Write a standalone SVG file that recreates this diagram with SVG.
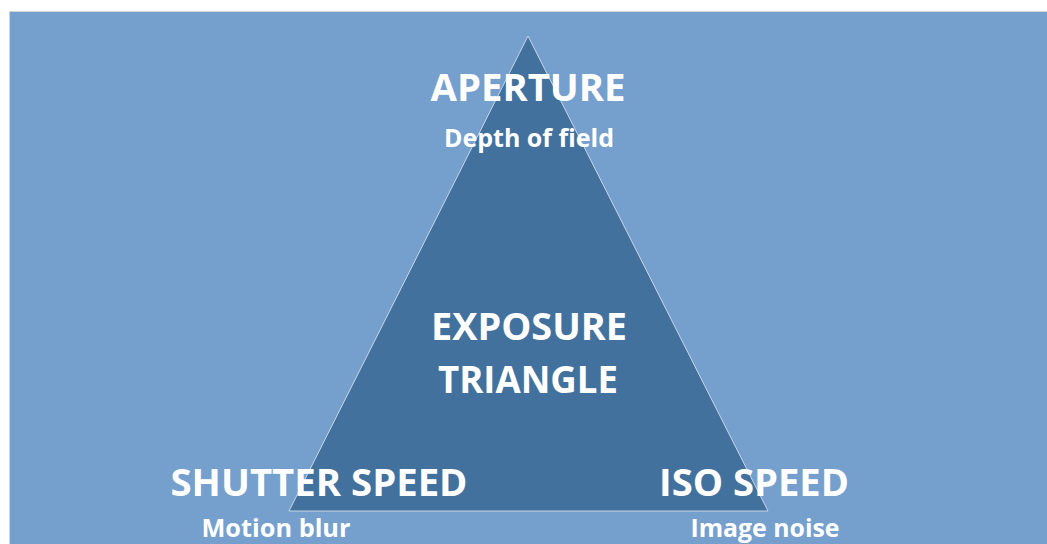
<svg xmlns="http://www.w3.org/2000/svg" width="1047" height="544" viewBox="0 0 1047 544">
  <style>
    .t { font-family: "Open Sans", "Liberation Sans", sans-serif; font-weight: 700; fill: #ffffff; text-anchor: middle; }
    .big { font-size: 37px; }
    .small { font-size: 25px; }
  </style>
  <!-- page -->
  <rect x="0" y="0" width="1047" height="544" fill="#ffffff"/>
  <rect x="9.5" y="11.5" width="1045" height="540" fill="#759fcc" stroke="#d4d4d4" stroke-width="1"/>

  <!-- triangle -->
  <g id="triangle">
    <polygon points="528,36 768,511 289,511" fill="#41719c" stroke="#c9d6e6" stroke-width="1"/>
  </g>

  <g id="connectors"></g>

  <g id="aperture">
    <text class="t big" x="528" y="101" textLength="195" lengthAdjust="spacingAndGlyphs">APERTURE</text>
    <text class="t small" x="529" y="147" textLength="170" lengthAdjust="spacingAndGlyphs">Depth of field</text>
  </g>

  <g id="center">
    <text class="t big" x="529" y="340" textLength="196" lengthAdjust="spacingAndGlyphs">EXPOSURE</text>
    <text class="t big" x="528" y="393" textLength="180" lengthAdjust="spacingAndGlyphs">TRIANGLE</text>
  </g>

  <g id="shutter">
    <text class="t big" x="319" y="496" textLength="297" lengthAdjust="spacingAndGlyphs">SHUTTER SPEED</text>
    <text class="t small" x="276" y="537" textLength="149" lengthAdjust="spacingAndGlyphs">Motion blur</text>
  </g>

  <g id="iso">
    <text class="t big" x="754" y="496" textLength="190" lengthAdjust="spacingAndGlyphs">ISO SPEED</text>
    <text class="t small" x="765" y="537" textLength="149" lengthAdjust="spacingAndGlyphs">Image noise</text>
  </g>
</svg>
